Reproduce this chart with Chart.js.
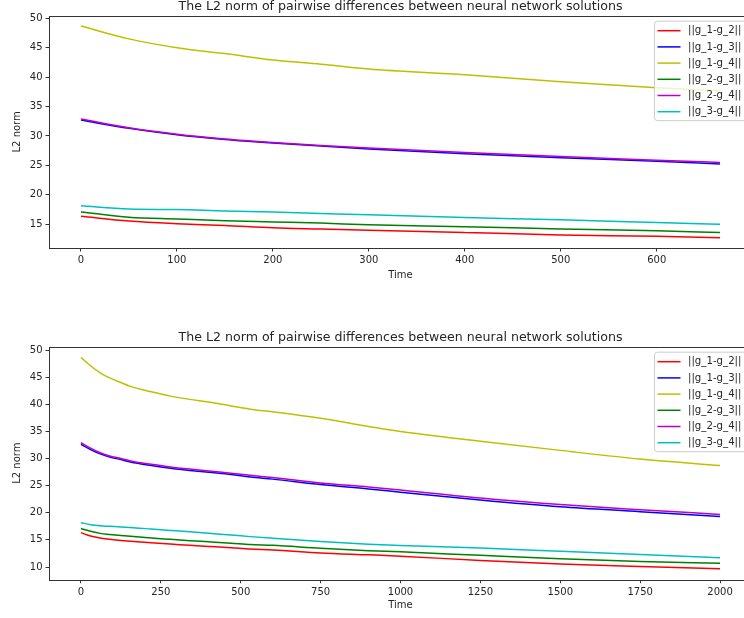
<!DOCTYPE html>
<html>
<head>
<meta charset="utf-8">
<script src="https://cdn.jsdelivr.net/npm/chart.js@4.4.0/dist/chart.umd.min.js"></script>
<style>
  html, body { margin: 0; padding: 0; background: #fff; overflow: hidden; width: 744px; height: 618px; }
  .panel { position: absolute; left: 0; width: 790px; height: 309px; }
  #topPanel { top: 0; }
  #bottomPanel { top: 309px; }
</style>
</head>
<body>
<div class="panel" id="topPanel"><canvas id="chartTop" width="790" height="309"></canvas></div>
<div class="panel" id="bottomPanel"><canvas id="chartBottom" width="790" height="309"></canvas></div>
<script>
// ---- data ----
const seriesLabels = ['||g_1-g_2||', '||g_1-g_3||', '||g_1-g_4||', '||g_2-g_3||', '||g_2-g_4||', '||g_3-g_4||'];
const seriesColors = ['#ff0000', '#0000ff', '#bfbf00', '#008000', '#bf00bf', '#00bfbf'];

// top panel (0 .. ~666)
const timeTop = [0, 50, 100, 150, 200, 250, 300, 400, 500, 600, 666];
const g12Top = [16.35, 15.55, 15.1, 14.8, 14.4, 14.2, 14.0, 13.6, 13.2, 12.95, 12.7];
const g13Top = [32.7, 31.3, 30.2, 29.4, 28.8, 28.3, 27.8, 27.0, 26.3, 25.7, 25.25];
const g14Top = [48.7, 46.5, 45.0, 44.0, 42.9, 42.2, 41.4, 40.4, 39.2, 38.2, 37.7];
const g23Top = [17.1, 16.2, 15.9, 15.6, 15.4, 15.2, 14.9, 14.6, 14.2, 13.9, 13.6];
const g24Top = [32.9, 31.4, 30.3, 29.5, 28.9, 28.4, 27.95, 27.2, 26.5, 25.9, 25.5];
const g34Top = [18.15, 17.6, 17.5, 17.25, 17.1, 16.85, 16.6, 16.15, 15.75, 15.3, 15.0];
const xTicksTop = [0, 100, 200, 300, 400, 500, 600];
const yTicksTop = [15, 20, 25, 30, 35, 40, 45, 50];

// bottom panel (0 .. 2000)
const timeBottom = [0, 30, 60, 90, 125, 155, 220, 280, 340, 400, 470, 530, 600, 750, 900, 1000, 1250, 1500, 1750, 2000];
const g12Bottom = [16.33, 15.7, 15.35, 15.1, 14.9, 14.75, 14.45, 14.24, 14.0, 13.8, 13.55, 13.3, 13.15, 12.6, 12.25, 12.0, 11.2, 10.55, 10.1, 9.7];
const g13Bottom = [32.6, 31.65, 30.85, 30.25, 29.8, 29.35, 28.7, 28.2, 27.8, 27.45, 27.05, 26.6, 26.2, 25.2, 24.4, 23.8, 22.35, 21.1, 20.2, 19.3];
const g14Bottom = [48.65, 47.1, 45.8, 44.85, 44.0, 43.3, 42.3, 41.5, 40.9, 40.4, 39.7, 39.1, 38.6, 37.4, 35.9, 35.0, 33.2, 31.5, 29.9, 28.7];
const g23Bottom = [17.1, 16.6, 16.2, 16.0, 15.8, 15.65, 15.35, 15.1, 14.85, 14.65, 14.4, 14.15, 14.0, 13.45, 13.0, 12.8, 12.15, 11.5, 11.0, 10.7];
const g24Bottom = [32.9, 31.9, 31.05, 30.45, 30.0, 29.55, 28.95, 28.45, 28.05, 27.7, 27.3, 26.9, 26.5, 25.5, 24.75, 24.2, 22.7, 21.5, 20.55, 19.7];
const g34Bottom = [18.17, 17.8, 17.6, 17.5, 17.37, 17.3, 17.0, 16.75, 16.5, 16.2, 15.9, 15.6, 15.3, 14.7, 14.2, 13.95, 13.5, 12.9, 12.3, 11.7];
const xTicksBottom = [0, 250, 500, 750, 1000, 1250, 1500, 1750, 2000];
const yTicksBottom = [10, 15, 20, 25, 30, 35, 40, 45, 50];

const titleText = 'The L2 norm of pairwise differences between neural network solutions';
const FONT = "'DejaVu Sans', sans-serif";
const INK = '#262626';

// frame, title and boxed legend the way matplotlib draws them
const mplDecor = {
    id: 'mplDecor',
    afterDatasetsDraw(chart) {
        const ctx = chart.ctx;
        const a = chart.chartArea;
        ctx.save();
        // spines
        ctx.strokeStyle = '#333';
        ctx.lineWidth = 1;
        ctx.strokeRect(Math.round(a.left) + 0.5, Math.round(a.top) + 0.5, Math.round(a.width), Math.round(a.height));
        // title
        ctx.fillStyle = INK;
        ctx.font = '12.6px ' + FONT;
        ctx.textAlign = 'center';
        ctx.textBaseline = 'alphabetic';
        ctx.fillText(titleText, (a.left + a.right) / 2, a.top - 5.5);
        // legend
        const x0 = a.right - 97.5, y0 = a.top + 5.5, w = 93, h = 99.5, r = 3;
        ctx.beginPath();
        ctx.moveTo(x0 + r, y0);
        ctx.lineTo(x0 + w - r, y0);
        ctx.arcTo(x0 + w, y0, x0 + w, y0 + r, r);
        ctx.lineTo(x0 + w, y0 + h - r);
        ctx.arcTo(x0 + w, y0 + h, x0 + w - r, y0 + h, r);
        ctx.lineTo(x0 + r, y0 + h);
        ctx.arcTo(x0, y0 + h, x0, y0 + h - r, r);
        ctx.lineTo(x0, y0 + r);
        ctx.arcTo(x0, y0, x0 + r, y0, r);
        ctx.closePath();
        ctx.fillStyle = 'rgba(255,255,255,0.8)';
        ctx.fill();
        ctx.strokeStyle = '#cccccc';
        ctx.stroke();
        ctx.font = '10.2px ' + FONT;
        ctx.textAlign = 'left';
        ctx.textBaseline = 'middle';
        chart.data.datasets.forEach((ds, i) => {
            const y = y0 + 9.5 + i * 16.2;
            ctx.strokeStyle = ds.borderColor;
            ctx.lineWidth = 1.5;
            ctx.beginPath();
            ctx.moveTo(x0 + 3, y);
            ctx.lineTo(x0 + 26, y);
            ctx.stroke();
            ctx.fillStyle = INK;
            ctx.fillText(ds.label, x0 + 33.5, y);
        });
        ctx.restore();
    }
};

function buildDatasets(times, seriesList) {
    return seriesList.map((vals, i) => ({
        label: seriesLabels[i],
        data: times.map((t, k) => ({ x: t, y: vals[k] })),
        borderColor: seriesColors[i],
        backgroundColor: seriesColors[i],
        borderWidth: 1.5,
        pointRadius: 0,
        cubicInterpolationMode: 'monotone',
        order: seriesList.length - i // later series on top, like matplotlib
    }));
}

function axisCommon(tickValues, size, isX) {
    return {
        type: 'linear',
        afterBuildTicks: s => { s.ticks = tickValues.map(v => ({ value: v })); },
        afterFit: s => { if (isX) { s.height = size; } else { s.width = size; } },
        grid: { drawOnChartArea: false, drawTicks: true, tickLength: 3.5, color: '#333', lineWidth: 1 },
        border: { display: false },
        ticks: {
            font: { family: FONT, size: 10 },
            color: INK,
            padding: 3,
            maxRotation: 0,
            autoSkip: false,
            callback: v => String(v)
        }
    };
}

function makeChart(canvasId, times, seriesList, xr, yr, xTicks, yTicks, pad, xAxisHeight) {
    const xAxis = axisCommon(xTicks, xAxisHeight, true);
    xAxis.min = xr[0]; xAxis.max = xr[1];
    xAxis.title = { display: true, text: 'Time', color: INK, font: { family: FONT, size: 10 }, padding: { top: 0, bottom: 0 } };
    const yAxis = axisCommon(yTicks, 49, false);
    yAxis.min = yr[0]; yAxis.max = yr[1];
    yAxis.title = { display: true, text: 'L2 norm', color: INK, font: { family: FONT, size: 10 }, padding: { top: 11, bottom: 0 } };

    return new Chart(document.getElementById(canvasId).getContext('2d'), {
        type: 'line',
        data: { datasets: buildDatasets(times, seriesList) },
        options: {
            responsive: false,
            animation: false,
            layout: { padding: pad },
            scales: { x: xAxis, y: yAxis },
            plugins: { legend: { display: false }, tooltip: { enabled: false }, title: { display: false } }
        },
        plugins: [mplDecor]
    });
}

makeChart('chartTop', timeTop,
    [g12Top, g13Top, g14Top, g23Top, g24Top, g34Top],
    [-33.3, 699.3], [10.97, 50.44], xTicksTop, yTicksTop,
    { left: 0, top: 15.7, right: 38, bottom: 27.4 }, 33.6);

makeChart('chartBottom', timeBottom,
    [g12Bottom, g13Bottom, g14Bottom, g23Bottom, g24Bottom, g34Bottom],
    [-100, 2100], [7.66, 50.61], xTicksBottom, yTicksBottom,
    { left: 0, top: 37.7, right: 38, bottom: 6.1 }, 32.2);
</script>
</body>
</html>
